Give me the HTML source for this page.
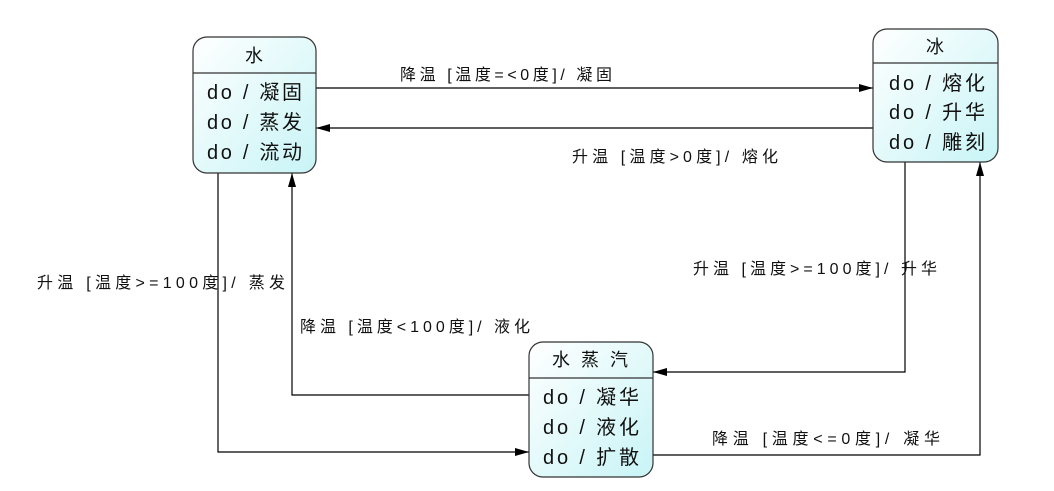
<!DOCTYPE html>
<html><head><meta charset="utf-8"><style>
html,body{margin:0;padding:0;background:#fff;}
svg{display:block;}
text{font-family:"Liberation Sans","Noto Sans CJK SC",sans-serif;fill:#111;}
</style></head><body>
<svg width="1054" height="491" viewBox="0 0 1054 491" xmlns="http://www.w3.org/2000/svg">
<defs>
<linearGradient id="g" x1="0" y1="0" x2="1" y2="1">
<stop offset="0" stop-color="#ffffff"/><stop offset="1" stop-color="#c8f4f6"/>
</linearGradient>
<marker id="a" markerWidth="14" markerHeight="8" refX="14" refY="4" orient="auto" markerUnits="userSpaceOnUse">
<path d="M0,0 L14,4 L0,8 Z" fill="#000"/>
</marker>
</defs>
<g stroke="#000" stroke-width="1.2" fill="none">
<line x1="316" y1="88" x2="873" y2="88" marker-end="url(#a)"/>
<line x1="873" y1="128" x2="316" y2="128" marker-end="url(#a)"/>
<polyline points="218,173 218,452 529,452" marker-end="url(#a)"/>
<polyline points="529,395 292,395 292,173" marker-end="url(#a)"/>
<polyline points="905,162 905,372 653,372" marker-end="url(#a)"/>
<polyline points="653,455 980,455 980,162" marker-end="url(#a)"/>
</g>
<g stroke="#333" stroke-width="1.2" fill="url(#g)">
<rect x="193" y="37" width="123" height="136" rx="14"/>
<rect x="873" y="29" width="125" height="133" rx="14"/>
<rect x="529" y="342" width="124" height="135" rx="14"/>
</g>
<g stroke="#333" stroke-width="1.2">
<line x1="193" y1="73" x2="316" y2="73"/>
<line x1="873" y1="63" x2="998" y2="63"/>
<line x1="529" y1="378" x2="653" y2="378"/>
</g>
<g font-size="18">
<text x="245" y="62">水</text>
<text x="926" y="53">冰</text>
<text x="552" y="366" textLength="76" lengthAdjust="spacing">水蒸汽</text>
</g>
<g font-size="20">
<text x="207" y="99" textLength="95" lengthAdjust="spacing">do / 凝固</text>
<text x="207" y="129" textLength="95" lengthAdjust="spacing">do / 蒸发</text>
<text x="207" y="159" textLength="95" lengthAdjust="spacing">do / 流动</text>
<text x="889" y="90" textLength="96" lengthAdjust="spacing">do / 熔化</text>
<text x="889" y="119" textLength="96" lengthAdjust="spacing">do / 升华</text>
<text x="889" y="149" textLength="96" lengthAdjust="spacing">do / 雕刻</text>
<text x="543" y="404" textLength="96" lengthAdjust="spacing">do / 凝华</text>
<text x="543" y="434" textLength="96" lengthAdjust="spacing">do / 液化</text>
<text x="543" y="464" textLength="96" lengthAdjust="spacing">do / 扩散</text>
</g>
<g font-size="16">
<text x="400" y="80" textLength="212" lengthAdjust="spacing">降温 [温度=&lt;0度]/ 凝固</text>
<text x="572" y="162" textLength="206" lengthAdjust="spacing">升温 [温度&gt;0度]/ 熔化</text>
<text x="37" y="288" textLength="248" lengthAdjust="spacing">升温 [温度&gt;=100度]/ 蒸发</text>
<text x="300" y="332" textLength="230" lengthAdjust="spacing">降温 [温度&lt;100度]/ 液化</text>
<text x="693" y="274" textLength="244" lengthAdjust="spacing">升温 [温度&gt;=100度]/ 升华</text>
<text x="712" y="444" textLength="228" lengthAdjust="spacing">降温 [温度&lt;=0度]/ 凝华</text>
</g>
</svg>
</body></html>
